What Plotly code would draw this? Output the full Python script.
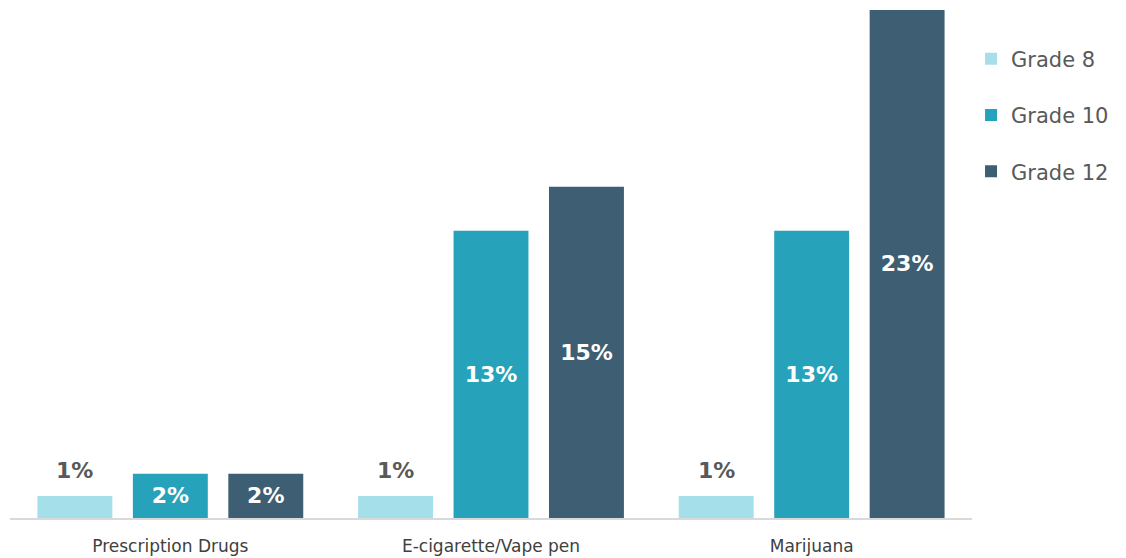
import plotly.graph_objects as go

categories = ["Prescription Drugs", "E-cigarette/Vape pen", "Marijuana"]
grade8 = [1, 1, 1]
grade10 = [2, 13, 13]
grade12 = [2, 15, 23]
series_names = ["Grade 8", "Grade 10", "Grade 12"]

colors = ["#A5DFE9", "#26A3BA", "#3E5E73"]
FONT = "DejaVu Sans, sans-serif"

fig = go.Figure()
for i, (name, vals) in enumerate(zip(series_names, [grade8, grade10, grade12])):
    show_text = i > 0
    fig.add_trace(go.Bar(
        x=categories, y=vals, name=name,
        marker=dict(color=colors[i], line=dict(width=0)),
        text=[f"{v}%" for v in vals] if show_text else None,
        textposition="inside" if show_text else "none",
        textfont=dict(color="white", size=22, family=FONT, weight="bold"),
        insidetextanchor="middle",
        textangle=0,
        cliponaxis=False,
        legendgroup=name,
    ))

# Grade 8 labels above bars
for cat, v in zip(categories, grade8):
    fig.add_annotation(x=cat, y=v, xref="x", yref="y", text=f"{v}%",
                       showarrow=False, yanchor="bottom", xshift=-95.5, yshift=11,
                       font=dict(color="#595959", size=22, family=FONT, weight="bold"))

fig.update_layout(
    width=1126, height=558,
    margin=dict(l=2, r=162, t=0, b=48),
    plot_bgcolor="white", paper_bgcolor="white",
    barmode="group", bargap=0.107, bargroupgap=0.215,
    showlegend=True,
    legend=dict(x=0.999, y=0.94, xref="paper", yref="paper", xanchor="left", yanchor="top",
                font=dict(size=21, color="#595959", family=FONT),
                tracegroupgap=26, itemwidth=30),
)
fig.update_xaxes(showline=True, linecolor="#D9D9D9", linewidth=2, ticks="",
                 tickfont=dict(size=17, color="#404040", family=FONT), showgrid=False,
                 ticklabelstandoff=12)
fig.update_yaxes(range=[0, 23.09], visible=False, showgrid=False)

fig.write_html("out.html")
